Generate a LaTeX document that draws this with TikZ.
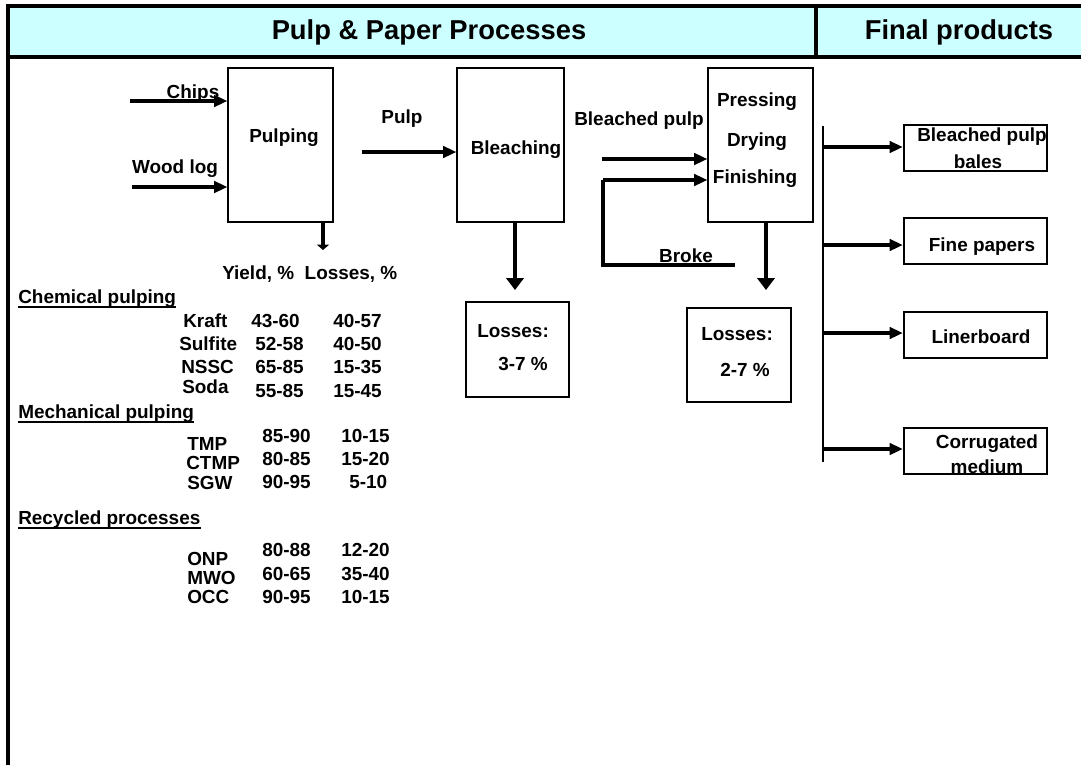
\documentclass[tikz,border=0pt]{standalone}
\usepackage{fontspec}
\setmainfont{Liberation Sans}
\usetikzlibrary{arrows.meta}
\definecolor{hdr}{HTML}{CCFFFF}
\begin{document}
\begin{tikzpicture}[x=0.75pt,y=-0.75pt,
  every node/.style={font=\fontsize{14.2}{17}\selectfont\bfseries, inner sep=0pt},
  lbl/.style={anchor=base},
  lblw/.style={anchor=base west},
  title/.style={anchor=base, font=\fontsize{20.5}{24}\selectfont\bfseries},
  proc/.style={draw, line width=0.8pt, minimum height=115.5pt},
  lossbox/.style={draw, line width=1.6pt},
  prodbox/.style={draw, line width=1.6pt, minimum width=107.25pt, minimum height=34.5pt},
  harr/.style={line width=2.6pt, -{Triangle[length=10pt,width=8.5pt]}},
  varr/.style={line width=2.6pt, -{Triangle[length=9pt,width=13pt]}},
  sarr/.style={line width=2.4pt, -{Triangle[length=4pt,width=9pt]}},
  thick line/.style={line width=2.6pt},
  uline/.style={line width=1.5pt}
]
\useasboundingbox (0,0) rectangle (1081,765);
% header
\fill[hdr] (8,6) rectangle (1081,57);
\draw[line width=3pt] (8,765) -- (8,6) -- (1081,6);
\draw[line width=3pt] (8,57) -- (1081,57);
\draw[line width=3pt] (816,6) -- (816,57);
\node[title] (t1) at (429,39) {Pulp \& Paper Processes};
\node[title] (t2) at (959,39) {Final products};

% process boxes
\node[proc, minimum width=78.75pt] (pulping) at (280.5,145) {};
\node[proc, minimum width=80.25pt] (bleach) at (510.5,145) {};
\node[proc, minimum width=78.75pt] (press) at (760.5,145) {};
\node[lbl] (tpulping) at (284,142) {Pulping};
\node[lbl] (tbleach) at (516,154) {Bleaching};
\node[lbl] (tpress) at (757,106) {Pressing};
\node[lbl] (tdry) at (757,146) {Drying};
\node[lbl] (tfin) at (755,183) {Finishing};

% inputs
\node[lbl] (tchips) at (193,98.5) {Chips};
\node[lbl] (twood) at (175,173) {Wood log};
\coordinate (chipsS) at (130,101);
\coordinate (woodS) at (132,187);
\draw[harr] (chipsS) -- (chipsS -| pulping.west);
\draw[harr] (woodS) -- (woodS -| pulping.west);

% pulp
\node[lbl] (tpulp) at (402,123) {Pulp};
\coordinate (pulpS) at (362,152);
\draw[harr] (pulpS) -- (pulpS -| bleach.west);

% bleached pulp
\node[lbl] (tbp) at (639,125) {Bleached pulp};
\coordinate (bpS) at (602,159);
\draw[harr] (bpS) -- (bpS -| press.west);

% broke loop
\coordinate (brokeS) at (735,265);
\coordinate (brokeC1) at (603,265);
\coordinate (brokeC2) at (603,180);
\draw[thick line] (brokeS) -- (brokeC1) -- (brokeC2);
\draw[harr] (brokeC2) -- (brokeC2 -| press.west);
\node[lbl] (tbroke) at (686,262) {Broke};

% down arrows
\coordinate (pdn) at (323,250);
\draw[sarr] (pulping.south -| pdn) -- (pdn);
\coordinate (bdn) at (515,290);
\draw[varr] (bleach.south -| bdn) -- (bdn);
\coordinate (prdn) at (766,290);
\draw[varr] (press.south -| prdn) -- (prdn);

% losses boxes
\node[lossbox, minimum width=77.25pt, minimum height=71.25pt] (loss1) at (517.5,349.5) {};
\node[lblw] (tl1a) at (477,337) {Losses:};
\node[lblw] (tl1b) at (498,370) {3-7 \%};
\node[lossbox, minimum width=78pt, minimum height=70.5pt] (loss2) at (739,355) {};
\node[lblw] (tl2a) at (701,340) {Losses:};
\node[lblw] (tl2b) at (720,376) {2-7 \%};

% final products
\coordinate (vtop) at (823,126);
\coordinate (vbot) at (823,462);
\draw[line width=0.8pt] (vtop) -- (vbot);
\node[prodbox] (p1) at (975.5,148) {};
\node[prodbox] (p2) at (975.5,241) {};
\node[prodbox] (p3) at (975.5,335) {};
\node[prodbox] (p4) at (975.5,451) {};
\coordinate (a1) at (823,147);
\coordinate (a2) at (823,245);
\coordinate (a3) at (823,333);
\coordinate (a4) at (823,449);
\draw[harr] (a1) -- (a1 -| p1.west);
\draw[harr] (a2) -- (a2 -| p2.west);
\draw[harr] (a3) -- (a3 -| p3.west);
\draw[harr] (a4) -- (a4 -| p4.west);
\node[lbl] (tp1a) at (982,141) {Bleached pulp};
\node[lbl] (tp1b) at (978,168) {bales};
\node[lbl] (tp2) at (982,251) {Fine papers};
\node[lbl] (tp3) at (981,343) {Linerboard};
\node[lbl] (tp4a) at (987,448) {Corrugated};
\node[lbl] (tp4b) at (987,473) {medium};

% table
\node[lblw] (yl) at (222,279) {Yield, \%\ \ Losses, \%};
\node[lblw] (hchem) at (18,303) {Chemical pulping};
\draw[uline] ([yshift=-3pt]hchem.base west) -- ([yshift=-3pt]hchem.base east);
\node[lblw] (n1) at (183,327) {Kraft};
\node[lblw] (y1) at (251,327) {43-60};
\node[lblw] (l1) at (333,327) {40-57};
\node[lblw] (n2) at (179,350) {Sulfite};
\node[lblw] (y2) at (255,350) {52-58};
\node[lblw] (l2) at (333,350) {40-50};
\node[lblw] (n3) at (181,373) {NSSC};
\node[lblw] (y3) at (255,373) {65-85};
\node[lblw] (l3) at (333,373) {15-35};
\node[lblw] (n4) at (182,393) {Soda};
\node[lblw] (y4) at (255,397) {55-85};
\node[lblw] (l4) at (333,397) {15-45};
\node[lblw] (hmech) at (18,418) {Mechanical pulping};
\draw[uline] ([yshift=-3pt]hmech.base west) -- ([yshift=-3pt]hmech.base east);
\node[lblw] (n5) at (187,450) {TMP};
\node[lblw] (n6) at (186,469) {CTMP};
\node[lblw] (n7) at (187,489) {SGW};
\node[lblw] (y5) at (262,442) {85-90};
\node[lblw] (l5) at (341,442) {10-15};
\node[lblw] (y6) at (262,465) {80-85};
\node[lblw] (l6) at (341,465) {15-20};
\node[lblw] (y7) at (262,488) {90-95};
\node[lblw] (l7) at (349,488) {5-10};
\node[lblw] (hrec) at (18,524) {Recycled processes};
\draw[uline] ([yshift=-3pt]hrec.base west) -- ([yshift=-3pt]hrec.base east);
\node[lblw] (n8) at (187,565) {ONP};
\node[lblw] (n9) at (187,584) {MWO};
\node[lblw] (n10) at (187,603) {OCC};
\node[lblw] (y8) at (262,556) {80-88};
\node[lblw] (l8) at (341,556) {12-20};
\node[lblw] (y9) at (262,580) {60-65};
\node[lblw] (l9) at (341,580) {35-40};
\node[lblw] (y10) at (262,603) {90-95};
\node[lblw] (l10) at (341,603) {10-15};
\end{tikzpicture}
\end{document}
